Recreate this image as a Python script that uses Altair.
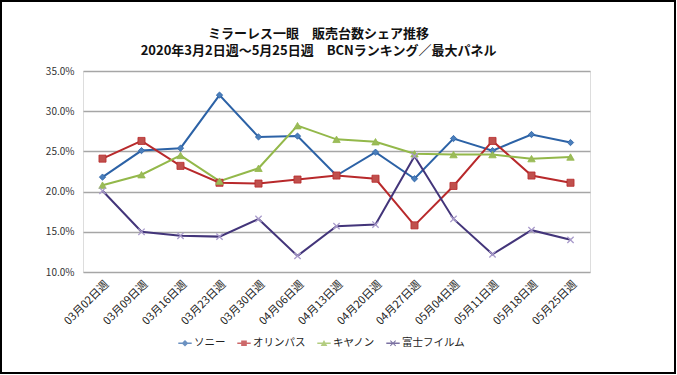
import altair as alt
import pandas as pd

weeks = ["03月02日週", "03月09日週", "03月16日週", "03月23日週", "03月30日週", "04月06日週",
         "04月13日週", "04月20日週", "04月27日週", "05月04日週", "05月11日週", "05月18日週", "05月25日週"]
series_names = ["ソニー", "オリンパス", "キヤノン", "富士フイルム"]
sony = [21.8, 25.1, 25.4, 32.0, 26.8, 26.9, 22.0, 24.9, 21.6, 26.6, 25.1, 27.1, 26.1]
olympus = [24.1, 26.3, 23.2, 21.1, 21.0, 21.5, 22.0, 21.6, 15.8, 20.7, 26.3, 22.0, 21.1]
canon = [20.8, 22.1, 24.5, 21.3, 22.9, 28.2, 26.5, 26.2, 24.7, 24.6, 24.6, 24.1, 24.3]
fuji = [20.1, 15.0, 14.5, 14.4, 16.6, 12.0, 15.7, 15.9, 24.4, 16.6, 12.2, 15.2, 14.0]
y_ticks = [0.10, 0.15, 0.20, 0.25, 0.30, 0.35]

line_colors = ["#2C62A6", "#B8292B", "#93B84A", "#43357A"]
marker_fill = ["#4A7EBB", "#C0504D", "#9BBB59", "#A99BCB"]

rows = []
for name, vals in zip(series_names, [sony, olympus, canon, fuji]):
    for i, (w, v) in enumerate(zip(weeks, vals)):
        rows.append({"週": w, "系列": name, "シェア": v / 100, "order": i})
df = pd.DataFrame(rows)

FONT = "Noto Sans CJK JP"

x_enc = alt.X("週:N", sort=weeks, scale=alt.Scale(paddingOuter=0.5),
              axis=alt.Axis(labelAngle=-45, labelFontSize=11, labelColor="#222",
                            labelPadding=6, domain=False, ticks=False, grid=False,
                            title=None, labelFont=FONT))
y_enc = alt.Y("シェア:Q", scale=alt.Scale(domain=[0.10, 0.35], nice=False, zero=False),
              axis=alt.Axis(values=y_ticks, format=".1%", labelFontSize=10, labelColor="#333",
                            labelPadding=9, domain=False, ticks=False, grid=True,
                            gridColor="#A6A6A6", gridWidth=1.3, title=None, labelFont=FONT))

shapes = ["diamond", "square", "triangle-up", "M-1,-1L1,1M-1,1L1,-1"]
sizes = [40, 50, 55, 40]
line_layers = []
point_layers = []
for name, shp, fillc, strokec, sz in zip(series_names, shapes, marker_fill, line_colors, sizes):
    base = alt.Chart(df).transform_filter(alt.datum["系列"] == name)
    line_layers.append(base.mark_line(strokeWidth=2, color=strokec).encode(x=x_enc, y=y_enc, order="order:Q"))
    if name == "富士フイルム":
        m = base.mark_point(shape=shp, filled=False, color=fillc, strokeWidth=1.3, size=sz, opacity=1)
    else:
        m = base.mark_point(shape=shp, filled=True, fill=fillc, stroke=strokec,
                            strokeWidth=0.8, size=sz, opacity=1)
    point_layers.append(m.encode(x=x_enc, y=y_enc))

legend_paths = [
    "M-1,-0.13H1V0.13H-1Z M0,-0.5L0.5,0L0,0.5L-0.5,0Z",
    "M-1,-0.13H1V0.13H-1Z M-0.42,-0.42H0.42V0.42H-0.42Z",
    "M-1,-0.13H1V0.13H-1Z M0,-0.5L0.5,0.4H-0.5Z",
    "M-1,-0.13H1V0.13H-1Z M-0.45,-0.35L-0.35,-0.45L0.45,0.35L0.35,0.45Z M0.35,-0.45L0.45,-0.35L-0.35,0.45L-0.45,0.35Z",
]

legend_layer = alt.Chart(df).transform_filter(alt.datum["シェア"] < 0).mark_point(filled=True).encode(
    x=x_enc, y=y_enc,
    color=alt.Color("系列:N", scale=alt.Scale(domain=series_names, range=line_colors), sort=series_names,
                    legend=alt.Legend(orient="none", legendX=95, legendY=265, direction="horizontal",
                                      title=None, labelFontSize=10.5, labelFont=FONT, labelColor="#222",
                                      symbolSize=180, symbolStrokeWidth=0,
                                      columnPadding=11, labelOffset=2)),
    shape=alt.Shape("系列:N", scale=alt.Scale(domain=series_names, range=legend_paths), sort=series_names),
)

frame = alt.Chart(pd.DataFrame({"a": [0]})).mark_rect(fill=None, stroke="#000", strokeWidth=2).encode(
    x=alt.value(-82), x2=alt.value(592), y=alt.value(-70), y2=alt.value(302)
)

chart = alt.layer(*line_layers, *point_layers, legend_layer, frame).properties(
    width=507, height=201,
    autosize=alt.AutoSizeParams(type="none"),
    padding={"left": 83, "top": 71, "right": 87, "bottom": 103},
    title=alt.TitleParams(text=["ミラーレス一眼\u3000販売台数シェア推移", "2020年3月2日週～5月25日週\u3000BCNランキング／最大パネル"],
                          fontSize=13, font=FONT, fontWeight="bold", color="#111", anchor="middle",
                          dx=-18, dy=58, offset=0, lineHeight=17),
).configure_view(strokeWidth=0, stroke="transparent").configure(background="white")

chart.save("out.html", embed_options={"renderer": "svg", "actions": False})
